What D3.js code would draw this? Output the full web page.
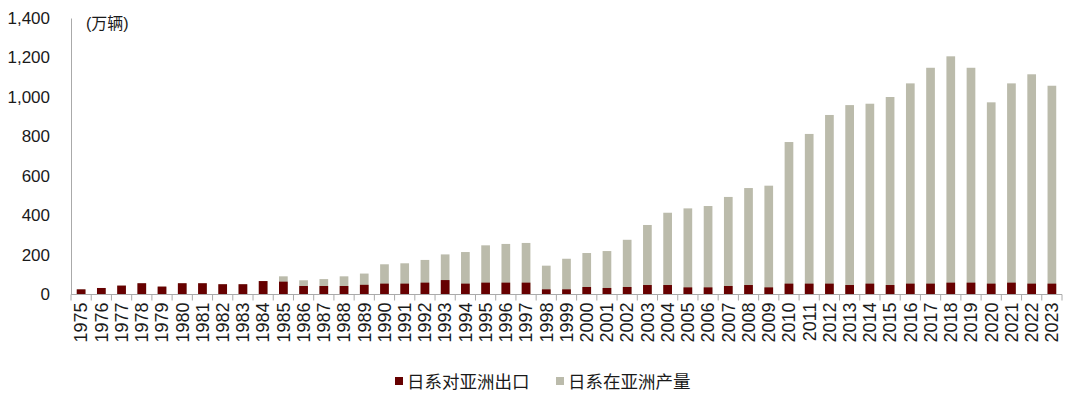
<!DOCTYPE html>
<html>
<head>
<meta charset="utf-8">
<script src="https://cdn.jsdelivr.net/npm/d3@7"></script>
<style>
  body { margin: 0; background: #fff; }
  text { font-family: "Liberation Sans", Arial, "Noto Sans CJK SC", sans-serif; fill: #1a1a1a; }
</style>
</head>
<body>
<svg id="chart" width="1080" height="396"></svg>
<script>
// 年份
var years = d3.range(1975, 2024).map(String);

// 日系对亚洲出口 (万辆)
var exportAsia = [26, 33, 45, 57, 40, 57, 57, 52, 52, 68,
                  65, 43, 43, 43, 49, 55, 55, 60, 73, 55,
                  60, 60, 60, 26, 26, 38, 33, 38, 48, 48,
                  36, 36, 43, 48, 36, 55, 55, 55, 48, 55,
                  48, 55, 55, 60, 60, 55, 60, 55, 55];

// 日系在亚洲产量 (万辆)
var prodAsia = [26, 33, 45, 57, 40, 57, 57, 52, 52, 68,
                92, 72, 78, 92, 106, 153, 158, 175, 203, 215,
                249, 256, 261, 146, 181, 210, 220, 277, 352, 414,
                436, 448, 494, 539, 551, 772, 813, 909, 959, 966,
                1000, 1069, 1148, 1206, 1148, 973, 1069, 1115, 1057];

var yTicks = [0, 200, 400, 600, 800, 1000, 1200, 1400];

var svg = d3.select('#chart');
var mLeft = 71, mRight = 1062, mTop = 18, mBottom = 294.5;

var xScale = d3.scaleBand().domain(years).range([mLeft, mRight]).padding(0),
    yScale = d3.scaleLinear().domain([0, 1400]).range([mBottom, mTop]);

var barW = xScale.bandwidth() * 0.43;

// y轴
var yAxis = svg.append('g').attr('transform', 'translate(' + mLeft + ',0)')
    .call(d3.axisLeft(yScale).tickValues(yTicks).tickSize(0).tickPadding(21).tickFormat(d3.format(',')));
yAxis.select('.domain').attr('stroke', '#aaa');
yAxis.selectAll('text').attr('font-size', '17px').attr('font-family', '"Liberation Sans", Arial, sans-serif').attr('fill', '#1a1a1a');

// 单位
svg.append('text')
    .attr('x', 86).attr('y', 29)
    .attr('font-size', '16px')
    .text('(万辆)');

// 柱子: 产量在后, 出口在前
svg.append('g').selectAll('rect')
    .data(prodAsia)
    .enter().append('rect')
    .attr('x', function(d, i){ return xScale(years[i]) + (xScale.bandwidth() - barW) / 2; })
    .attr('y', function(d){ return yScale(d); })
    .attr('width', barW)
    .attr('height', function(d){ return mBottom - yScale(d); })
    .attr('fill', '#bbbbab');

svg.append('g').selectAll('rect')
    .data(exportAsia)
    .enter().append('rect')
    .attr('x', function(d, i){ return xScale(years[i]) + (xScale.bandwidth() - barW) / 2; })
    .attr('y', function(d){ return yScale(d); })
    .attr('width', barW)
    .attr('height', function(d){ return mBottom - yScale(d); })
    .attr('fill', '#660000');

// x轴
var xg = svg.append('g');
xg.append('line')
    .attr('x1', mLeft).attr('x2', mRight)
    .attr('y1', mBottom).attr('y2', mBottom)
    .attr('stroke', '#aaa');
xg.selectAll('.tick')
    .data(years.concat(['end']))
    .enter().append('line')
    .attr('x1', function(d){ return d == 'end' ? mRight : xScale(d); })
    .attr('x2', function(d){ return d == 'end' ? mRight : xScale(d); })
    .attr('y1', mBottom).attr('y2', mBottom + 6)
    .attr('stroke', '#aaa');
xg.selectAll('.lbl')
    .data(years)
    .enter().append('text')
    .attr('transform', function(d){ return 'translate(' + (xScale(d) + xScale.bandwidth() / 2) + ',' + (mBottom + 8) + ') rotate(-90)'; })
    .attr('dy', '0.35em')
    .attr('text-anchor', 'end')
    .attr('font-size', '18px')
    .text(function(d){ return d; });

// 图例
var legend = [
    {name: '日系对亚洲出口', color: '#660000', x: 395},
    {name: '日系在亚洲产量', color: '#bbbbab', x: 556}
];
var lg = svg.append('g');
lg.selectAll('rect')
    .data(legend)
    .enter().append('rect')
    .attr('x', function(d){ return d.x; })
    .attr('y', 377)
    .attr('width', 8).attr('height', 8)
    .attr('fill', function(d){ return d.color; });
lg.selectAll('text')
    .data(legend)
    .enter().append('text')
    .attr('x', function(d){ return d.x + 12; })
    .attr('y', 388)
    .attr('font-size', '17.5px')
    .attr('font-family', '"Noto Sans CJK SC", sans-serif')
    .text(function(d){ return d.name; });
</script>
</body>
</html>
